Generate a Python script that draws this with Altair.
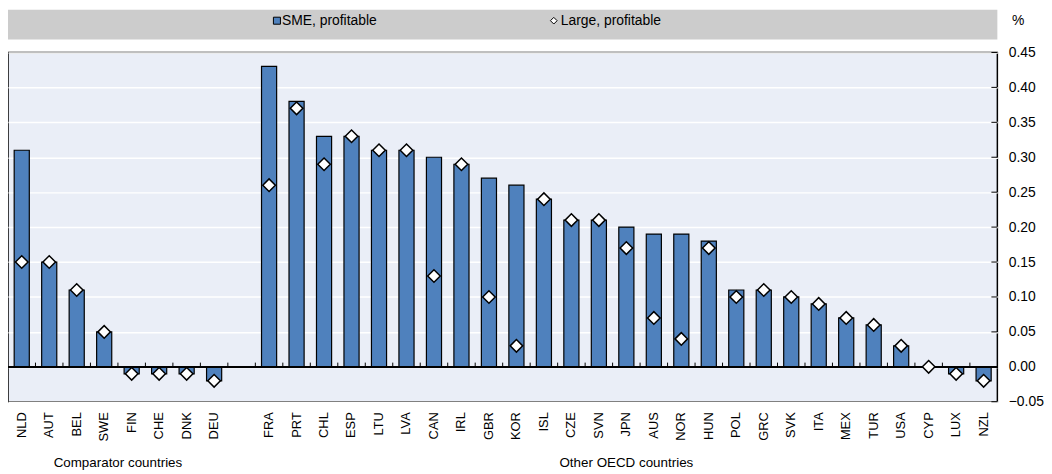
import altair as alt
import pandas as pd

comparator = ["NLD", "AUT", "BEL", "SWE", "FIN", "CHE", "DNK", "DEU"]
comp_sme = [0.31, 0.15, 0.11, 0.05, -0.01, -0.01, -0.01, -0.02]
comp_large = [0.15, 0.15, 0.11, 0.05, -0.01, -0.01, -0.01, -0.02]

other = ["FRA", "PRT", "CHL", "ESP", "LTU", "LVA", "CAN", "IRL", "GBR", "KOR",
         "ISL", "CZE", "SVN", "JPN", "AUS", "NOR", "HUN", "POL", "GRC", "SVK",
         "ITA", "MEX", "TUR", "USA", "CYP", "LUX", "NZL"]
other_sme = [0.43, 0.38, 0.33, 0.33, 0.31, 0.31, 0.30, 0.29, 0.27, 0.26,
             0.24, 0.21, 0.21, 0.20, 0.19, 0.19, 0.18, 0.11, 0.11, 0.10,
             0.09, 0.07, 0.06, 0.03, 0.00, -0.01, -0.02]
other_large = [0.26, 0.37, 0.29, 0.33, 0.31, 0.31, 0.13, 0.29, 0.10, 0.03,
               0.24, 0.21, 0.21, 0.17, 0.07, 0.04, 0.17, 0.10, 0.11, 0.10,
               0.09, 0.07, 0.06, 0.03, 0.00, -0.01, -0.02]

y_ticks = [-0.05, 0.0, 0.05, 0.10, 0.15, 0.20, 0.25, 0.30, 0.35, 0.40, 0.45]
series_names = ["SME, profitable", "Large, profitable"]
group_names = ["Comparator countries", "Other OECD countries"]

GAP = " "
domain = comparator + [GAP] + other

W, H = 997, 352
STEP = W / len(domain)
BAR_BLUE = "#4F81BD"
FONT = "Liberation Sans, Arial"

df = pd.DataFrame({
    "country": comparator + other,
    "sme": comp_sme + other_sme,
    "large": comp_large + other_large,
})
ticks_df = pd.DataFrame({"country": domain[1:]})
yt_df = pd.DataFrame({"v": y_ticks})
group1_df = pd.DataFrame({"label": [group_names[0]], "country": [comparator[3]]})
group2_df = pd.DataFrame({"label": [group_names[1]], "country": [other[13]]})

xscale = alt.Scale(domain=domain, paddingInner=0.45, paddingOuter=0.225)
yscale = alt.Scale(domain=[-0.05, 0.45], nice=False, zero=False)

x_axis = alt.Axis(
    title=None, labelAngle=-90, labelFont=FONT, labelFontSize=13,
    labelColor="black", labelPadding=10, ticks=False, domain=False,
    labelOverlap=False, grid=False,
)
y_axis = alt.Axis(
    title=None, orient="right", values=y_ticks, format=".2f",
    labelFont=FONT, labelFontSize=14, labelColor="black", labelPadding=11,
    labelOverlap=False, labelBound=False, ticks=False, domain=False,
    grid=True, gridColor="white", gridWidth=1.5, tickCount=11,
)


def X(field="country:N"):
    return alt.X(field, scale=xscale, axis=x_axis, sort=domain)


def Y(field):
    return alt.Y(field, scale=yscale, axis=y_axis)


def Y0():
    return alt.YDatum(0, scale=yscale, axis=y_axis)


base = alt.Chart(df)

bars = base.mark_bar(color=BAR_BLUE, stroke="black", strokeWidth=1.2).encode(
    x=X(), y=Y("sme:Q"), y2=alt.datum(0),
)

zero_line = base.mark_rule(color="black", strokeWidth=1.3).encode(
    x=alt.value(0), x2=alt.value(W), y=Y0()
)

x_ticks = alt.Chart(ticks_df).mark_rule(
    color="black", strokeWidth=1, xOffset=-STEP / 2
).encode(
    x=X(), y=Y0(), y2=alt.datum(0.006),
)

y_tick_marks = alt.Chart(yt_df).mark_rule(color="black", strokeWidth=1).encode(
    y=Y("v:Q"), x=alt.value(W - 6), x2=alt.value(W)
)

diamonds = base.mark_point(
    shape="diamond", filled=True, fill="white", stroke="black",
    strokeWidth=1.5, size=160, opacity=1,
).encode(x=X(), y=Y("large:Q"))

one = pd.DataFrame({"a": [0]})
legend_bg = alt.Chart(one).mark_rect(color="#CCCCCC").encode(
    x=alt.value(0), x2=alt.value(W), y=alt.value(-43), y2=alt.value(-13)
)
leg_sq = alt.Chart(one).mark_point(
    shape="square", filled=True, fill=BAR_BLUE, stroke="black",
    strokeWidth=1, size=50, opacity=1,
).encode(x=alt.value(271), y=alt.value(-32))
leg_sme = alt.Chart(pd.DataFrame({"t": [series_names[0]]})).mark_text(
    align="left", baseline="middle", font=FONT, fontSize=14, color="black"
).encode(x=alt.value(276), y=alt.value(-32), text="t:N")
leg_dia = alt.Chart(one).mark_point(
    shape="diamond", filled=True, fill="white", stroke="black",
    strokeWidth=1, size=45, opacity=1,
).encode(x=alt.value(550), y=alt.value(-32))
leg_large = alt.Chart(pd.DataFrame({"t": [series_names[1]]})).mark_text(
    align="left", baseline="middle", font=FONT, fontSize=14, color="black"
).encode(x=alt.value(557), y=alt.value(-32), text="t:N")
pct = alt.Chart(pd.DataFrame({"t": ["%"]})).mark_text(
    align="center", baseline="middle", font=FONT, fontSize=14, color="black"
).encode(x=alt.value(W + 21), y=alt.value(-32), text="t:N")

group_text = alt.Chart(group1_df).mark_text(
    align="center", baseline="middle", font=FONT, fontSize=13.5, color="black",
    xOffset=STEP / 2,
).encode(x=X(), y=alt.value(H + 62), text="label:N")
group_text2 = alt.Chart(group2_df).mark_text(
    align="center", baseline="middle", font=FONT, fontSize=13.5, color="black",
).encode(x=X(), y=alt.value(H + 62), text="label:N")

chart = alt.layer(
    legend_bg, bars, zero_line, x_ticks, y_tick_marks, diamonds,
    leg_sq, leg_sme, leg_dia, leg_large, pct, group_text, group_text2,
).properties(
    width=W, height=H,
    padding={"left": 0, "top": 43, "right": 47, "bottom": 71},
    autosize=alt.AutoSizeParams(type="none"),
).configure_view(
    fill="#EAEEF7", stroke="black", strokeWidth=1.5
)

chart.save("out.html", embed_options={"renderer": "svg", "actions": False})
